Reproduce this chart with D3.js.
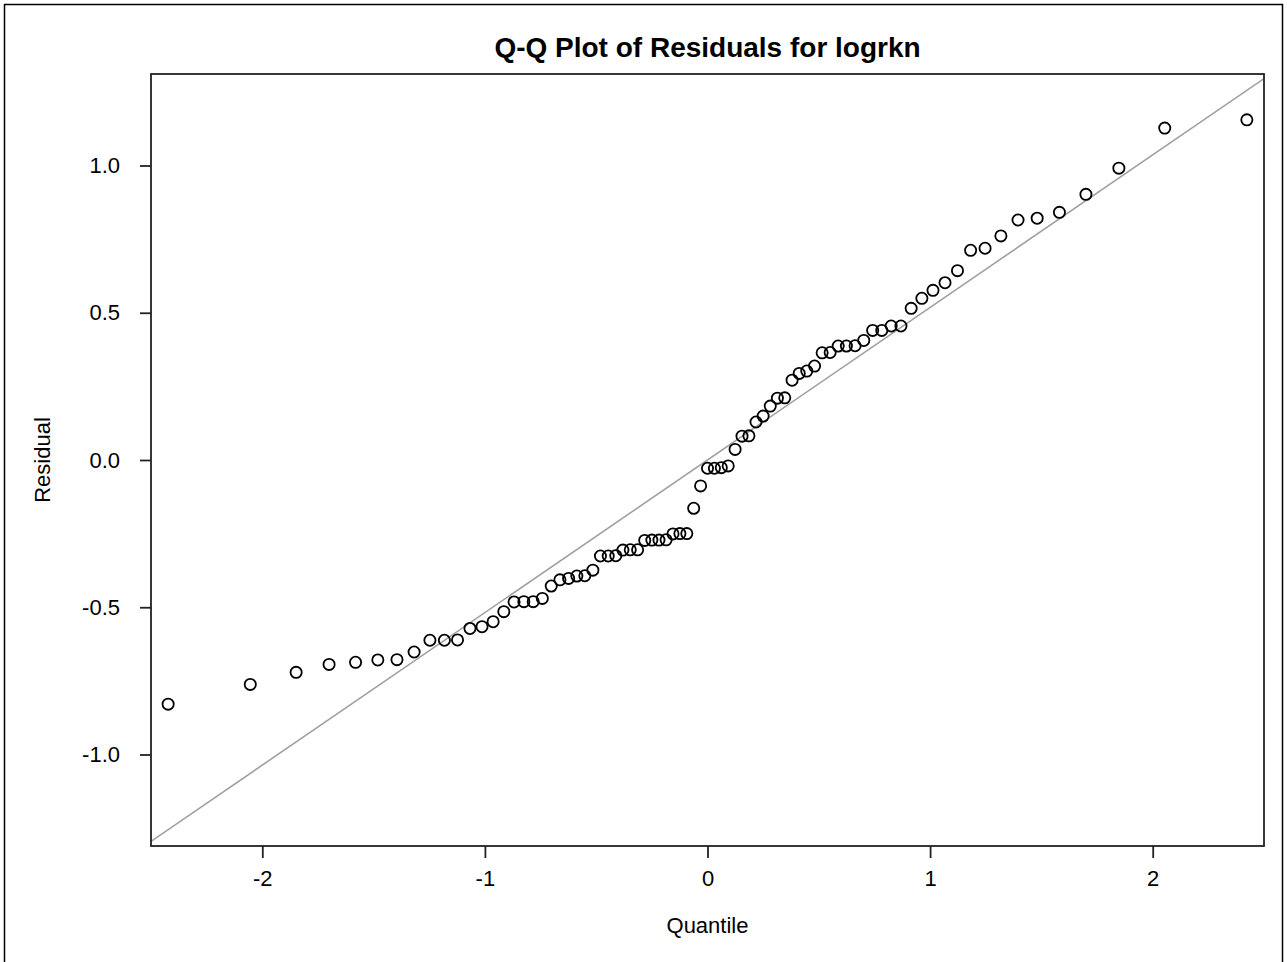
<!DOCTYPE html>
<html>
<head>
<meta charset="utf-8">
<script src="https://cdn.jsdelivr.net/npm/d3@7"></script>
<style>
  html, body { margin: 0; padding: 0; background: #fff; }
  svg { display: block; }
  text { font-family: "Liberation Sans", Arial, sans-serif; fill: #000; }
</style>
</head>
<body>
<svg id="chart" width="1287" height="962"></svg>
<script>
// Normal quantiles (x)
const quantiles = [
  -2.423, -2.054, -1.848, -1.700, -1.581, -1.481, -1.395, -1.318, -1.247, -1.182,
  -1.123, -1.067, -1.013, -0.963, -0.915, -0.869, -0.825, -0.783, -0.742, -0.702,
  -0.663, -0.624, -0.587, -0.551, -0.515, -0.481, -0.446, -0.412, -0.380, -0.347,
  -0.314, -0.282, -0.250, -0.218, -0.186, -0.155, -0.124, -0.093, -0.062, -0.031,
   0.000,
   0.031,  0.062,  0.093,  0.124,  0.155,  0.186,  0.218,  0.250,  0.282,  0.314,
   0.347,  0.380,  0.412,  0.446,  0.481,  0.515,  0.551,  0.587,  0.624,  0.663,
   0.702,  0.742,  0.783,  0.825,  0.869,  0.915,  0.963,  1.013,  1.067,  1.123,
   1.182,  1.247,  1.318,  1.395,  1.481,  1.581,  1.700,  1.848,  2.054,  2.423
];
// Sorted residuals (y)
const residuals = [
  -0.829, -0.762, -0.721, -0.694, -0.687, -0.679, -0.678, -0.652, -0.612, -0.612,
  -0.611, -0.572, -0.566, -0.549, -0.515, -0.482, -0.481, -0.481, -0.470, -0.428,
  -0.407, -0.402, -0.394, -0.393, -0.374, -0.326, -0.326, -0.325, -0.306, -0.305,
  -0.305, -0.273, -0.272, -0.272, -0.271, -0.251, -0.250, -0.250, -0.164, -0.088,
  -0.028,
  -0.028, -0.026, -0.020,  0.036,  0.081,  0.082,  0.129,  0.149,  0.183,  0.210,
   0.211,  0.271,  0.294,  0.302,  0.319,  0.364,  0.365,  0.387,  0.387,  0.388,
   0.406,  0.440,  0.440,  0.455,  0.455,  0.515,  0.549,  0.576,  0.602,  0.643,
   0.712,  0.719,  0.761,  0.815,  0.821,  0.841,  0.902,  0.991,  1.127,  1.155
];
// Reference line: residual = intercept + slope * quantile
const refIntercept = 0.0;
const refSlope = 0.518;

const xTicks = [-2, -1, 0, 1, 2];
const yTicks = [-1.0, -0.5, 0.0, 0.5, 1.0];
const titleText = "Q-Q Plot of Residuals for logrkn";
const xLabel = "Quantile";
const yLabel = "Residual";

const svg = d3.select("#chart");
const W = 1287, H = 962;
const plot = { left: 151, right: 1264, top: 74, bottom: 846 };

const x = d3.scaleLinear().domain([-2.5, 2.5]).range([plot.left, plot.right]);
const y = d3.scaleLinear().domain([-1.3107, 1.3107]).range([plot.bottom, plot.top]);

const hyphen = f => d => f(d).replace("\u2212", "-");

// outer border (image frame)
svg.append("path")
  .attr("d", `M4.5,${H + 5} L4.5,4.5 L${W - 4.5},4.5 L${W - 4.5},${H + 5}`)
  .attr("fill", "none").attr("stroke", "#000").attr("stroke-width", 1.5);

// clip
svg.append("clipPath").attr("id", "clip")
  .append("rect").attr("x", plot.left).attr("y", plot.top)
  .attr("width", plot.right - plot.left).attr("height", plot.bottom - plot.top);

// reference line
const [x0, x1] = x.domain();
svg.append("line")
  .attr("clip-path", "url(#clip)")
  .attr("x1", x(x0)).attr("y1", y(refIntercept + refSlope * x0))
  .attr("x2", x(x1)).attr("y2", y(refIntercept + refSlope * x1))
  .attr("stroke", "#a0a0a0").attr("stroke-width", 1.6);

// points
svg.append("g").selectAll("circle")
  .data(quantiles.map((q, i) => ({ q, r: residuals[i] })))
  .join("circle")
  .attr("cx", d => x(d.q))
  .attr("cy", d => y(d.r))
  .attr("r", 5.6)
  .attr("fill", "none")
  .attr("stroke", "#000")
  .attr("stroke-width", 1.8);

// frame
svg.append("rect")
  .attr("x", plot.left).attr("y", plot.top)
  .attr("width", plot.right - plot.left).attr("height", plot.bottom - plot.top)
  .attr("fill", "none").attr("stroke", "#222").attr("stroke-width", 1.8);

// axes
const xAxis = d3.axisBottom(x).tickValues(xTicks).tickFormat(hyphen(d3.format("d")))
  .tickSizeOuter(0).tickSizeInner(12).tickPadding(12);
const gx = svg.append("g").attr("transform", `translate(0,${plot.bottom})`).call(xAxis);
const yAxis = d3.axisLeft(y).tickValues(yTicks).tickFormat(hyphen(d3.format(".1f")))
  .tickSizeOuter(0).tickSizeInner(11).tickPadding(20);
const gy = svg.append("g").attr("transform", `translate(${plot.left},0)`).call(yAxis);

[gx, gy].forEach(g => {
  g.select(".domain").remove();
  g.selectAll(".tick line").attr("stroke", "#222").attr("stroke-width", 1.8);
  g.selectAll(".tick text").attr("font-size", 22)
    .attr("font-family", "'Liberation Sans', Arial, sans-serif").attr("fill", "#000");
});

// title
svg.append("text")
  .attr("x", (plot.left + plot.right) / 2).attr("y", 57)
  .attr("text-anchor", "middle")
  .attr("font-size", 28).attr("font-weight", "bold")
  .text(titleText);

// axis labels
svg.append("text")
  .attr("x", (plot.left + plot.right) / 2).attr("y", 933)
  .attr("text-anchor", "middle").attr("font-size", 22)
  .text(xLabel);

svg.append("text")
  .attr("transform", `translate(50,${(plot.top + plot.bottom) / 2}) rotate(-90)`)
  .attr("text-anchor", "middle").attr("font-size", 22)
  .text(yLabel);
</script>
</body>
</html>
